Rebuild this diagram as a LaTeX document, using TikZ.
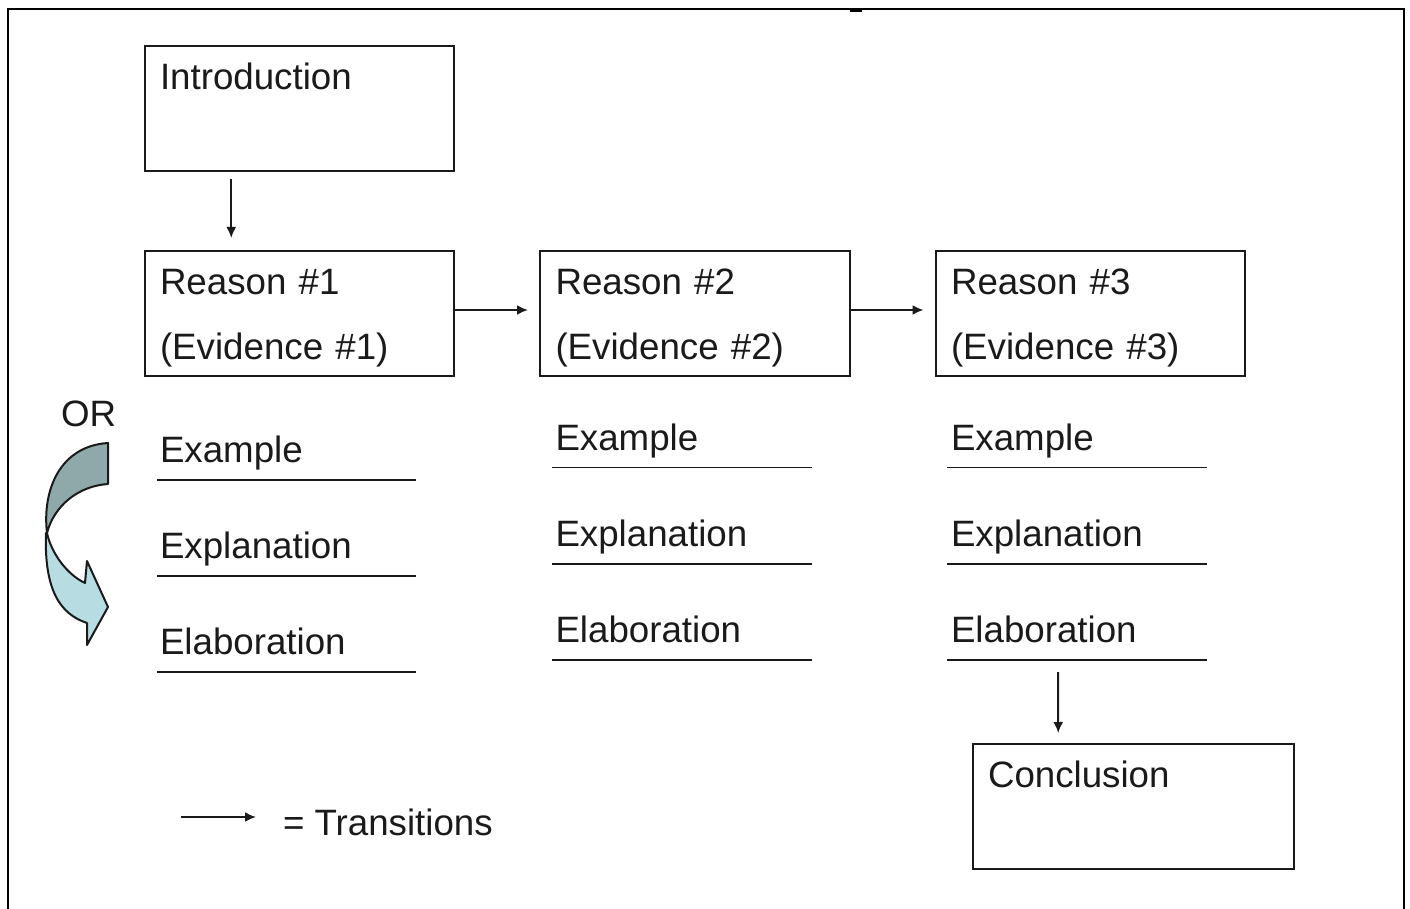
\documentclass[tikz,border=0pt]{standalone}
\usepackage{fontspec}
\setmainfont{Liberation Sans}
\usetikzlibrary{arrows.meta}
\definecolor{ink}{HTML}{1A1A1A}
\definecolor{arrowdark}{HTML}{8FA9AB}
\definecolor{arrowlight}{HTML}{B7DDE3}
\tikzset{
  boxed/.style={draw=ink,line width=2pt,fill=white,rectangle,align=left,anchor=north west,outer sep=0pt,
    inner xsep=15.5pt,inner ysep=13pt,text height=30.3pt,text depth=68.7pt,text=ink,
    font=\fontsize{36.7}{65}\selectfont},
  wide/.style={boxed,text width=278.5pt},
  wider/.style={boxed,text width=290.5pt},
  label/.style={anchor=base west,inner sep=0pt,outer sep=0pt,text=ink,font=\fontsize{36.7}{44}\selectfont},
  rulepath/.style={draw=ink,line width=1.8pt},
  link/.style={draw=ink,line width=2pt,-{Latex[length=11pt,width=10pt]}},
  curvepart/.style={draw=ink,line width=2pt,line join=round}
}
\begin{document}
\begin{tikzpicture}[x=1pt,y=-1pt]
\useasboundingbox (0,0) rectangle (1410,909);
\clip (0,0) rectangle (1410,909);
% outer frame
\draw[black,line width=2.5pt] (8,930) -- (8,9) -- (1404,9) -- (1404,930);
\fill[black] (850,9) rectangle (862,12);
% boxes
\node[wide] (intro) at (144.5,46) {Introduction\\ ~};
\node[wide] (r1) at (144.5,251) {Reason \#1\\(Evidence \#1)};
\node[wide] (r2) at (540,251) {Reason \#2\\(Evidence \#2)};
\node[wide] (r3) at (935.5,251) {Reason \#3\\(Evidence \#3)};
\node[wider] (concl) at (972.5,744) {Conclusion\\ ~};
% column 1
\node[label] (ex1) at (160,462) {Example};
\node[label] (ep1) at (160,558) {Explanation};
\node[label] (el1) at (160,654) {Elaboration};
\draw[rulepath] (157,480) -- (416,480);
\draw[rulepath,line width=2.4pt] (157,576) -- (416,576);
\draw[rulepath] (157,672) -- (416,672);
% column 2
\node[label] (ex2) at (555.5,450) {Example};
\node[label] (ep2) at (555.5,546) {Explanation};
\node[label] (el2) at (555.5,642) {Elaboration};
\draw[rulepath] (552,467.5) -- (812,467.5);
\draw[rulepath] (552,564) -- (812,564);
\draw[rulepath] (552,660) -- (812,660);
% column 3
\node[label] (ex3) at (951,450) {Example};
\node[label] (ep3) at (951,546) {Explanation};
\node[label] (el3) at (951,642) {Elaboration};
\draw[rulepath] (947,467.5) -- (1207,467.5);
\draw[rulepath] (947,564) -- (1207,564);
\draw[rulepath] (947,660) -- (1207,660);
% connectors
\draw[link] ([xshift=-68pt,yshift=-8pt]intro.south) -- ([xshift=-68pt,yshift=13pt]r1.north);
\draw[link] ([yshift=3.5pt]r1.east) -- ([xshift=-12pt,yshift=3.5pt]r2.west);
\draw[link] ([yshift=3.5pt]r2.east) -- ([xshift=-12pt,yshift=3.5pt]r3.west);
\coordinate (eltail) at (1058,672);
\draw[link] (eltail) -- ([xshift=-75pt,yshift=11pt]concl.north);
% legend
\coordinate (lega) at (181,817);
\node[label] (legend) at (283,835) {= Transitions};
\draw[link] (lega) -- ([xshift=-27pt,yshift=18pt]legend.base west);
% OR and curved arrow
\node[label] (or) at (61,426) {OR};
\path[curvepart,fill=arrowlight] (47,533) .. controls (51,552) and (66,574) .. (85,583)
  -- (87,561) -- (108,607) -- (87,645) -- (87,623)
  .. controls (60,614) and (44,590) .. (46,533) -- cycle;
\path[curvepart,fill=arrowdark] (108,443) -- (108,484)
  .. controls (78,486) and (54,506) .. (47,533)
  .. controls (42,490) and (60,446) .. (108,443) -- cycle;
\end{tikzpicture}
\end{document}
